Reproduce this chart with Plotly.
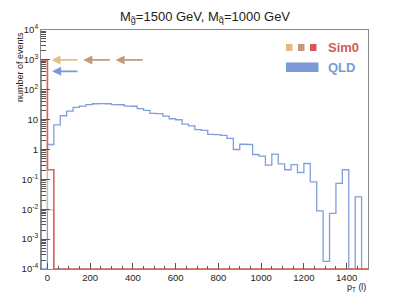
import numpy as np
import plotly.graph_objects as go

# ---- data ----
bin_edges = list(range(-30, 1501, 30))  # 51 bins, width 30 GeV
qld = [0, 1.47, 6.7, 13.5, 19.2, 25.7, 28.3, 31.6, 34, 34.5, 34, 32, 31.5, 28.5, 28,
       23.2, 20.3, 16.3, 16, 13.1, 10.7, 9.9, 7.1, 6.2, 4.6, 4.35, 3.2, 3.15, 2.95, 2.34,
       1.0, 1.5, 1.47, 0.68, 0.6, 0.30, 0.70, 0.33, 0.21, 0.31, 0.17, 0.34, 0.083, 0.0088,
       0.00018, 0.0073, 0.074, 0.21, 0, 0.026, 0]
sim0_a = [1000, 0.0095] + [0] * 49   # orange
sim0_c = [1000, 0.21] + [0] * 49     # red
# arrows: (x_tail, x_head, y) in data units
arrows = [(148, 19, 1000, "#e6bd85"), (299, 168, 1000, "#c9977b"),
          (453, 319, 1000, "#c9977b"), (148, 22, 415, "#7b9bd8")]
ytick_vals = [1e-4, 1e-3, 1e-2, 1e-1, 1, 10, 1e2, 1e3, 1e4]
ytick_text = ["10<sup>-4</sup>", "10<sup>-3</sup>", "10<sup>-2</sup>", "10<sup>-1</sup>",
              "1", "10", "10<sup>2</sup>", "10<sup>3</sup>", "10<sup>4</sup>"]
xtick_vals = [0, 200, 400, 600, 800, 1000, 1200, 1400]

FLOOR = 1e-4
OX, OY = 8, 8            # page body offset
W, H = 401, 292
L, R, T, B = 33, 41, 22, 31
PX0, PX1, PY0, PY1 = OX + L, OX + W - R, OY + T, OY + H - B


def step(vals):
    v = [max(a, FLOOR) for a in vals]
    xs = [bin_edges[0]] + bin_edges
    ys = [FLOOR] + v + [FLOOR]
    return xs, ys


def px(xp, yp):
    return (xp - PX0) / (PX1 - PX0), (PY1 - yp) / (PY1 - PY0)


fig = go.Figure()
for vals, col, wd in [(qld, "#809fdc", 1.3), (sim0_a, "#e6bd85", 1.4), (sim0_c, "#d86464", 1.6)]:
    xs, ys = step(vals)
    fig.add_trace(go.Scatter(x=xs, y=ys, mode="lines", line=dict(color=col, width=wd, shape="hv"),
                             showlegend=False, hoverinfo="skip"))

for xt, xh, yv, col in arrows:
    fig.add_annotation(x=xh, y=np.log10(yv), ax=xt, ay=np.log10(yv), xref="x", yref="y",
                       axref="x", ayref="y", text="", showarrow=True, arrowhead=2,
                       arrowsize=1.0, arrowwidth=1.8, arrowcolor=col)

# legend
for x0, col in [(286, "#e2b97f"), (298, "#c8977b"), (310, "#d45a5a")]:
    a0, b0 = px(x0, 51)
    a1, b1 = px(x0 + 6.5, 44)
    fig.add_shape(type="rect", xref="paper", yref="paper", x0=a0, y0=b0, x1=a1, y1=b1,
                  fillcolor=col, line=dict(width=0))
a0, b0 = px(286, 72)
a1, b1 = px(318.5, 62.5)
fig.add_shape(type="rect", xref="paper", yref="paper", x0=a0, y0=b0, x1=a1, y1=b1,
              fillcolor="#7b9bd8", line=dict(width=0))
xa, ya = px(326, 47.5)
fig.add_annotation(x=xa, y=ya, xref="paper", yref="paper", text="<b>Sim0</b>", showarrow=False,
                   xanchor="left", yanchor="middle", font=dict(size=13, color="#d45a5a"))
xa, ya = px(326, 67.5)
fig.add_annotation(x=xa, y=ya, xref="paper", yref="paper", text="<b>QLD</b>", showarrow=False,
                   xanchor="left", yanchor="middle", font=dict(size=13, color="#7b9bd8"))

# axis titles
xa, ya = px(20, 30)
fig.add_annotation(x=xa, y=ya, xref="paper", yref="paper", text="number of events",
                   textangle=-90, showarrow=False, xanchor="center", yanchor="top",
                   font=dict(size=9, color="#222"))
xa, ya = px(368, 287)
fig.add_annotation(x=xa, y=ya, xref="paper", yref="paper", text="p<sub>T</sub> (l)",
                   showarrow=False, xanchor="right", yanchor="middle",
                   font=dict(size=9, color="#222"))

minor_y = [k * 10.0 ** e for e in range(-4, 4) for k in range(2, 10)]

fig.update_layout(
    width=W, height=H, margin=dict(l=L, r=R, t=T, b=B),
    paper_bgcolor="white", plot_bgcolor="white",
    font=dict(family="Liberation Sans, Arial, sans-serif", color="#222"),
    title=dict(text="M<sub>g\u0303</sub>=1500 GeV, M<sub>q\u0303</sub>=1000 GeV",
               x=(205 - OX) / W, xanchor="center", y=1 - (16 - OY) / H, yanchor="middle",
               font=dict(size=13, color="#222")),
    xaxis=dict(range=[-30, 1500], tickvals=xtick_vals, ticks="inside", ticklen=6,
               tickcolor="#555", showgrid=False, zeroline=False, showline=True,
               linecolor="#888", linewidth=1, mirror=True, tickfont=dict(size=9.5),
               minor=dict(ticks="inside", ticklen=3, dtick=50, tickcolor="#555", showgrid=False)),
    yaxis=dict(type="log", range=[-4, 4], tickvals=ytick_vals, ticktext=ytick_text,
               ticks="inside", ticklen=9, tickcolor="#555", showgrid=False, zeroline=False,
               showline=True, linecolor="#888", linewidth=1, mirror=True,
               tickfont=dict(size=9.5),
               minor=dict(ticks="inside", ticklen=5, tickvals=minor_y, tickcolor="#555",
                          showgrid=False)),
)

fig.write_html("out.html")
